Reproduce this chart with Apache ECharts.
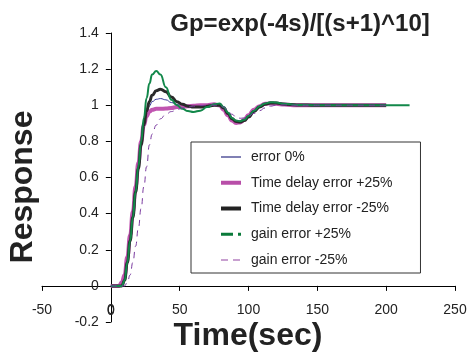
<!DOCTYPE html>
<html>
<head>
<meta charset="utf-8">
<script src="https://cdn.jsdelivr.net/npm/echarts@6/dist/echarts.min.js"></script>
<style>
  html, body { margin: 0; padding: 0; background: #fff; }
  #chart { width: 470px; height: 352px; }
</style>
</head>
<body>
<div id="chart"></div>
<script>
// time axis (sec), shared by all curves
var time = [0, 6, 8, 10, 12, 14, 16, 18, 20, 22, 24, 26, 28, 30, 33, 36, 40, 44, 48, 52, 56, 60, 65, 70, 75, 79, 82, 85, 88, 91, 94, 97, 100, 104, 108, 112, 116, 120, 126, 135, 150, 200];
// the green curve runs a bit longer
var timeGain = time.concat([217]);

var err0 = [0, 0, 0, 0.03, 0.13, 0.25, 0.38, 0.52, 0.65, 0.78, 0.88, 0.95, 0.995, 1.02, 1.033, 1.037, 1.03, 1.015, 1.005, 1.0, 0.998, 0.998, 0.998, 1.0, 1.0, 1.0, 0.985, 0.955, 0.925, 0.91, 0.907, 0.915, 0.935, 0.965, 0.99, 1.005, 1.012, 1.012, 1.006, 1.002, 1.0, 1.0];
var delayPlus = [0, 0, 0.02, 0.06, 0.16, 0.28, 0.41, 0.55, 0.68, 0.8, 0.89, 0.94, 0.965, 0.975, 0.98, 0.98, 0.982, 0.985, 0.99, 0.992, 0.995, 0.997, 1.0, 1.0, 1.005, 1.0, 0.975, 0.945, 0.915, 0.902, 0.905, 0.92, 0.945, 0.975, 0.995, 1.008, 1.01, 1.008, 1.004, 1.0, 1.0, 1.0];
var delayMinus = [0, 0, 0, 0.03, 0.13, 0.25, 0.38, 0.52, 0.65, 0.78, 0.89, 0.97, 1.02, 1.055, 1.08, 1.089, 1.075, 1.045, 1.02, 1.005, 0.995, 0.99, 0.99, 0.995, 1.0, 1.0, 0.985, 0.955, 0.925, 0.91, 0.907, 0.915, 0.935, 0.965, 0.99, 1.005, 1.012, 1.012, 1.006, 1.002, 1.0, 1.0];
var gainPlus = [0, 0, 0, 0.03, 0.13, 0.25, 0.38, 0.52, 0.66, 0.8, 0.93, 1.04, 1.12, 1.17, 1.19, 1.17, 1.1, 1.03, 1.0, 0.98, 0.968, 0.963, 0.97, 0.99, 1.005, 1.01, 0.99, 0.96, 0.93, 0.915, 0.912, 0.92, 0.94, 0.97, 0.995, 1.01, 1.017, 1.015, 1.008, 1.002, 1.0, 1.0, 1.0];
var gainMinus = [0, 0, 0, 0, 0.02, 0.06, 0.13, 0.22, 0.32, 0.43, 0.55, 0.66, 0.78, 0.84, 0.89, 0.925, 0.95, 0.965, 0.975, 0.985, 0.99, 0.995, 0.998, 1.0, 1.0, 1.0, 0.99, 0.97, 0.95, 0.935, 0.928, 0.93, 0.94, 0.955, 0.97, 0.985, 0.995, 1.0, 1.002, 1.0, 1.0, 1.0];

var seriesNames = ['error 0%', 'Time delay error +25%', 'Time delay error -25%', 'gain error +25%', 'gain error -25%'];
var xTicks = { min: -50, max: 250, step: 50 };
var yTicks = { min: -0.2, max: 1.4, step: 0.2 };

function pairs(xs, ys) {
  var out = [];
  for (var i = 0; i < xs.length; i++) out.push([xs[i], ys[i]]);
  return out;
}

var font = 'Liberation Sans, Arial, sans-serif';
var chart = echarts.init(document.getElementById('chart'), null, { renderer: 'canvas' });

var gridBox = { left: 42, right: 15, top: 33, bottom: 30 };
var plotW = 470 - gridBox.left - gridBox.right;
var plotH = 352 - gridBox.top - gridBox.bottom;
// shift the axes so they cross at (0, 0), like the original
var yAxisShift = (0 - xTicks.min) / (xTicks.max - xTicks.min) * plotW;
var xAxisShift = (0 - yTicks.min) / (yTicks.max - yTicks.min) * plotH;
var originX = gridBox.left + yAxisShift;
var originY = 352 - gridBox.bottom - xAxisShift;

function lineSeries(name, data, color, width, type) {
  return {
    name: name,
    type: 'line',
    data: data,
    symbol: 'none',
    showSymbol: false,
    smooth: true,
    smoothMonotone: 'x',
    lineStyle: { color: color, width: width, type: type || 'solid' },
    itemStyle: { color: color }
  };
}

var hideMark = { color: 'rgba(0,0,0,0)', borderColor: 'rgba(0,0,0,0)', borderWidth: 0 };

function textEl(x, y, text, fnt, rot) {
  return {
    type: 'text', x: x, y: y, rotation: rot || 0, z: 100,
    style: { text: text, font: fnt, fill: '#222', align: 'center', verticalAlign: 'middle', textAlign: 'center', textVerticalAlign: 'middle' }
  };
}

var option = {
  animation: false,
  backgroundColor: '#fff',
  grid: gridBox,
  xAxis: {
    type: 'value',
    min: xTicks.min, max: xTicks.max, interval: xTicks.step,
    offset: -xAxisShift,
    axisLine: { onZero: false, lineStyle: { color: '#000', width: 1 } },
    axisTick: { length: 5, lineStyle: { color: '#000' } },
    axisLabel: { margin: 17, color: '#222', fontSize: 14, fontFamily: font, hideOverlap: false },
    splitLine: { show: false }
  },
  yAxis: {
    type: 'value',
    min: yTicks.min, max: yTicks.max, interval: yTicks.step,
    offset: -yAxisShift,
    axisLine: { show: true, onZero: false, lineStyle: { color: '#000', width: 1 } },
    axisTick: { show: true, length: 5, lineStyle: { color: '#000' } },
    axisLabel: { margin: 12, color: '#222', fontSize: 14, fontFamily: font, hideOverlap: false },
    splitLine: { show: false }
  },
  legend: {
    orient: 'vertical',
    left: 191, top: 142,
    padding: [8, 28, 6, 28],
    itemWidth: 20, itemHeight: 14, itemGap: 11.75,
    textStyle: { fontSize: 14, color: '#222', fontFamily: font, padding: [0, 0, 0, 5] },
    borderColor: '#333', borderWidth: 1,
    backgroundColor: '#fff',
    data: [
      { name: seriesNames[0], itemStyle: hideMark, lineStyle: { color: '#8080b4', width: 2 } },
      { name: seriesNames[1], itemStyle: hideMark, lineStyle: { color: '#b84ea8', width: 4 } },
      { name: seriesNames[2], itemStyle: hideMark, lineStyle: { color: '#222', width: 4 } },
      { name: seriesNames[3], itemStyle: hideMark, lineStyle: { color: '#0a7a3a', width: 3, type: [12, 5] } },
      { name: seriesNames[4], itemStyle: hideMark, lineStyle: { color: '#c8a0d0', width: 2, type: [7, 5] } }
    ]
  },
  graphic: {
    elements: [
      textEl(300, 24, 'Gp=exp(-4s)/[(s+1)^10]', 'bold 24px ' + font),
      textEl(23, 187, 'Response', 'bold 32px ' + font, Math.PI / 2),
      textEl(248, 336, 'Time(sec)', 'bold 32px ' + font),
      // echarts drops the x label "0" where the axes cross; put it back
      textEl(originX, originY + 25, ' 0 ', '14px ' + font)
    ]
  },
  series: [
    lineSeries(seriesNames[0], pairs(time, err0), '#3a3a9a', 1),
    lineSeries(seriesNames[1], pairs(time, delayPlus), '#c054b0', 4),
    lineSeries(seriesNames[2], pairs(time, delayMinus), '#2a2a2a', 3),
    lineSeries(seriesNames[3], pairs(timeGain, gainPlus), '#12884a', 2),
    lineSeries(seriesNames[4], pairs(time, gainMinus), '#7a3aa0', 1, [6, 5])
  ]
};

chart.setOption(option);
</script>
</body>
</html>
